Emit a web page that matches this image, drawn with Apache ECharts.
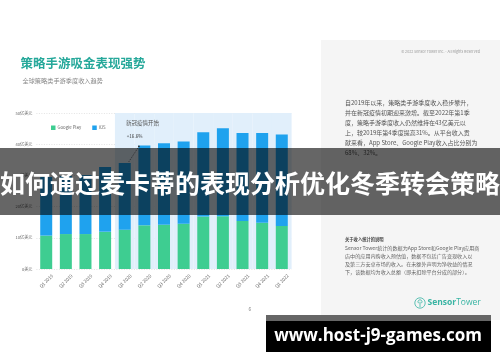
<!DOCTYPE html>
<html>
<head>
<meta charset="utf-8">
<script src="https://cdn.jsdelivr.net/npm/echarts@6/dist/echarts.min.js"></script>
<style>
html,body{margin:0;padding:0;background:#fff;}
#c{width:500px;height:362px;}
</style>
</head>
<body>
<div id="c"></div>
<script>
// ---- data ----
const categories = ['Q1 2019','Q2 2019','Q3 2019','Q4 2019','Q1 2020','Q2 2020','Q3 2020','Q4 2020','Q1 2021','Q2 2021','Q3 2021','Q4 2021','Q1 2022'];
const googlePlay = [10.7, 11.2, 11.2, 11.9, 12.6, 14.0, 14.2, 14.5, 16.8, 16.9, 15.4, 14.8, 13.8];
const iOS =        [18.8, 18.6, 18.9, 20.8, 21.4, 25.6, 26.1, 26.4, 27.0, 28.2, 28.2, 28.8, 29.3];
const yTickLabels = {0:'0美元', 10:'10亿美元', 20:'20亿美元', 30:'30亿美元', 40:'40亿美元', 50:'50亿美元'};
const highlightStart = 'Q1 2020';
const yMax = 50;
const annotationFrom = 'Q1 2020';
const annotationTo = 'Q2 2020';
const annotationText = '+16.6%';
const periodLabel = '新冠疫情开始';

const FONT = '"Noto Sans CJK SC", "Noto Sans", sans-serif';
const GREEN = '#3ecd91';
const BLUE = '#1fa2ee';
const BAR_W = 12;

const startIdx = categories.indexOf(highlightStart);
const highlight = categories.map((c, i) => i >= startIdx ? yMax : '-');
const totals = categories.map((c, i) => +(googlePlay[i] + iOS[i]).toFixed(2));

const chart = echarts.init(document.getElementById('c'), null, {renderer: 'canvas'});

const paragraph = [
  '自2019年以来，策略类手游季度收入稳步攀升，',
  '并在新冠疫情初期迎来激增。截至2022年第1季',
  '度，策略手游季度收入仍然维持在43亿美元以',
  '上，较2019年第4季度提高31%。从平台收入贡',
  '献来看，App Store、Google Play收入占比分别为',
  '68%、32%。'
].join('\n');
const notes = [
  'Sensor Tower统计的数据为App Store和Google Play应用商',
  '店中的应用内购收入预估值，数据不包括广告变现收入以',
  '及第三方安卓市场的收入。在未额外声明为净收益的情况',
  '下，该数据均为收入总额（即未扣除平台分成的部分）。'
].join('\n');

const staticGraphics = [
  {type:'rect', z:0, shape:{x:321, y:40, width:179, height:280}, style:{fill:'#f5f5f5'}},
  {type:'text', z:1, style:{text:'策略手游吸金表现强势', x:20.5, y:63.5, fill:'#25a89a', fontSize:12.5, fontWeight:'bold', fontFamily:FONT, verticalAlign:'middle'}},
  {type:'text', z:1, style:{text:'全球策略类手游季度收入趋势', x:22.5, y:81, fill:'#8a8a8a', fontSize:6.2, fontFamily:FONT, verticalAlign:'middle'}},
  {type:'text', z:1, style:{text:'6', x:250, y:309, fill:'#888', fontSize:5, fontFamily:FONT, align:'center', verticalAlign:'middle'}},
  {type:'text', z:1, style:{text:'© 2022 Sensor Tower Inc. - All Rights Reserved', x:480, y:52, fill:'#999', fontSize:3.7, fontFamily:FONT, align:'right', verticalAlign:'middle'}},
  {type:'text', z:1, style:{text:paragraph, x:345, y:97.3, fill:'#555', fontSize:6, lineHeight:10, fontFamily:FONT, verticalAlign:'top'}},
  {type:'text', z:1, style:{text:'关于收入统计的说明', x:345, y:239, fill:'#444', fontSize:4.3, fontWeight:'bold', fontFamily:FONT, verticalAlign:'middle'}},
  {type:'text', z:1, style:{text:notes, x:345, y:243.6, fill:'#666', fontSize:5.1, lineHeight:8.2, fontFamily:FONT, verticalAlign:'top'}},
  {type:'circle', z:1, shape:{cx:420, cy:303, r:5.2}, style:{fill:'none', stroke:'#38b4a3', lineWidth:0.8}},
  {type:'arc', z:1, shape:{cx:420, cy:301.8, r:2, startAngle:Math.PI*0.75, endAngle:Math.PI*2.25}, style:{fill:'none', stroke:'#38b4a3', lineWidth:0.8}},
  {type:'line', z:1, shape:{x1:420, y1:301.8, x2:420, y2:307.2}, style:{stroke:'#38b4a3', lineWidth:0.8}},
  {type:'text', z:1, style:{text:'{a|Sensor}{b|Tower}', x:427.5, y:303, verticalAlign:'middle', rich:{
    a:{fontSize:8.5, fontWeight:'bold', fill:'#38b4a3', fontFamily:'"Open Sans", sans-serif'},
    b:{fontSize:8.5, fill:'#38b4a3', fontFamily:'"Open Sans", sans-serif'}}}},
  // overlay band
  {type:'rect', z:100, shape:{x:0, y:148, width:500, height:67}, style:{fill:'rgba(0,0,0,0.6)'}},
  {type:'text', z:101, style:{text:'如何通过麦卡蒂的表现分析优化冬季转会策略', x:250, y:183, fill:'#fff', fontSize:25, fontWeight:'bold', fontFamily:FONT, align:'center', verticalAlign:'middle'}},
  // bottom url box
  {type:'rect', z:100, shape:{x:266, y:315, width:225, height:6}, style:{fill:'#666'}},
  {type:'rect', z:100, shape:{x:266, y:321, width:225, height:31}, style:{fill:'#000'}},
  {type:'text', z:101, style:{text:'www.host-j9-games.com', x:378, y:336.5, fill:'#fff', fontSize:17, fontWeight:'bold', fontFamily:'"Open Sans", sans-serif', align:'center', verticalAlign:'middle'}}
];

const option = {
  animation: false,
  backgroundColor: '#fff',
  textStyle: {fontFamily: FONT},
  grid: {left: 36.4, right: 208.4, top: 113, bottom: 93},
  legend: {
    data: ['Google Play', 'iOS'],
    left: 46, top: 120.5,
    icon: 'rect', itemWidth: 4.5, itemHeight: 4.5, itemGap: 11,
    textStyle: {fontSize: 4.3, color: '#666', fontFamily: FONT, padding: [0,0,0,-3]}
  },
  xAxis: [{
    type: 'category', data: categories,
    axisLine: {show: false}, axisTick: {show: false},
    axisLabel: {interval: 0, rotate: 45, align: 'center', verticalAlign: 'middle', margin: 12, fontSize: 4.6, color: '#666', fontFamily: FONT}
  }, {
    type: 'category', data: categories, show: false
  }],
  yAxis: {
    type: 'value', min: 0, max: yMax, interval: 10,
    axisLine: {show: false}, axisTick: {show: false},
    axisLabel: {formatter: v => yTickLabels[v], fontSize: 4.1, color: '#666', margin: 4, fontFamily: FONT},
    splitLine: {lineStyle: {type: [1, 1.5], color: '#d0d0d0', width: 0.6}}
  },
  series: [{
    name: 'highlight', type: 'bar', xAxisIndex: 1, data: highlight,
    barWidth: '100%', itemStyle: {color: '#e1effb'}, silent: true, z: 1
  }, {
    name: 'Google Play', type: 'bar', stack: 'rev', data: googlePlay,
    barWidth: BAR_W, itemStyle: {color: GREEN}, z: 3
  }, {
    name: 'iOS', type: 'bar', stack: 'rev', data: iOS,
    barWidth: BAR_W, itemStyle: {color: BLUE}, z: 3
  }],
  graphic: staticGraphics
};
chart.setOption(option);

// annotations positioned from the library's own scales
const i1 = categories.indexOf(annotationFrom), i2 = categories.indexOf(annotationTo);
const p1 = chart.convertToPixel({gridIndex: 0}, [annotationFrom, totals[i1]]);
const p2 = chart.convertToPixel({gridIndex: 0}, [annotationTo, totals[i2]]);
const pTop = chart.convertToPixel({gridIndex: 0}, [highlightStart, yMax]);
const band = p2[0] - p1[0];
const extra = [
  {type:'text', z:5, style:{text:periodLabel, x:pTop[0] - band/2 + 11, y:pTop[1] + 10, fill:'#555', fontSize:5.5, fontFamily:FONT, verticalAlign:'middle'}},
  {type:'text', z:5, style:{text:annotationText, x:p1[0] + 2, y:p2[1] - 9, fill:'#333', fontSize:4.6, fontFamily:FONT, verticalAlign:'middle'}},
  {type:'line', z:5, shape:{x1:p1[0] + BAR_W/2 - 2, y1:p1[1] - 1, x2:p2[0] - BAR_W/2 + 0.5, y2:p2[1] + 1}, style:{stroke:'#333', lineWidth:0.6, lineDash:[1.2, 1]}},
  {type:'circle', z:5, shape:{cx:p2[0] - BAR_W/2 + 0.5, cy:p2[1] + 1, r:0.9}, style:{fill:'#333'}}
];
chart.setOption({graphic: staticGraphics.concat(extra)});
</script>
</body>
</html>
